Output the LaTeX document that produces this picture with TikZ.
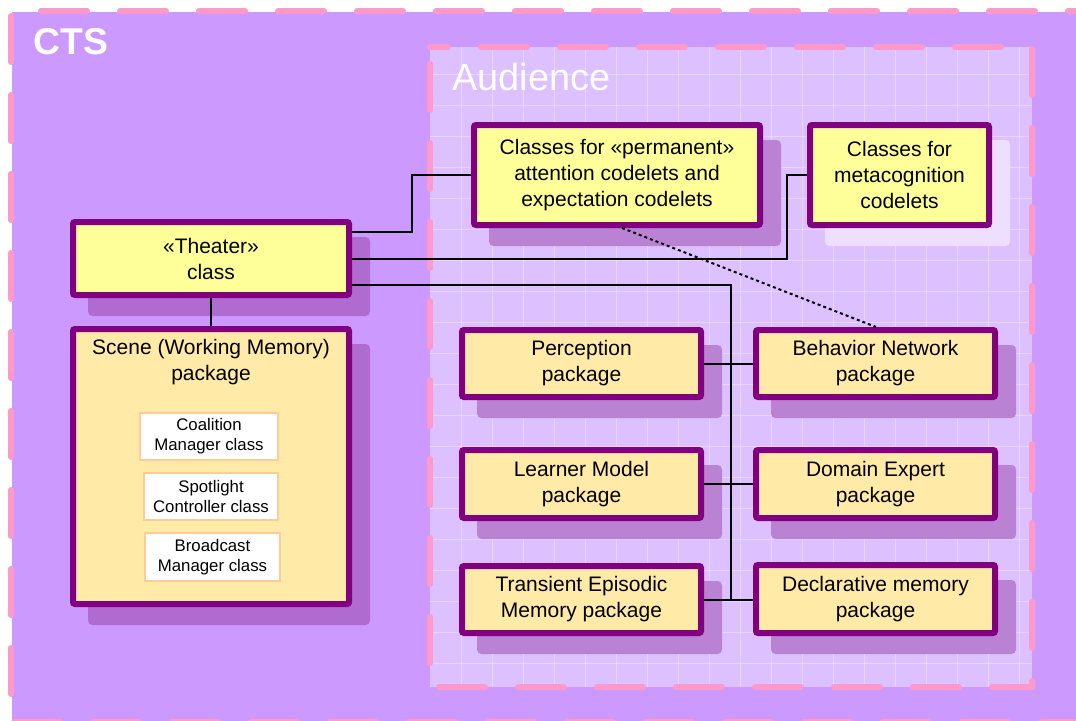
\documentclass[tikz,border=0pt]{standalone}
\usepackage{fontspec}
\setmainfont{Liberation Sans}
\usetikzlibrary{calc,shadows}

\definecolor{ctsbg}{HTML}{CC99FF}
\definecolor{audbg}{HTML}{DCC0FF}
\definecolor{dashpink}{HTML}{FF99CC}
\definecolor{boxline}{HTML}{800080}
\definecolor{classfill}{HTML}{FFFF99}
\definecolor{pkgfill}{HTML}{FFEAA8}
\definecolor{shadowcts}{HTML}{B06BD1}
\definecolor{shadowaud}{HTML}{BA82D3}
\definecolor{shadowpale}{HTML}{EEDFFF}
\definecolor{subline}{HTML}{FFCC99}

\tikzset{
  boxfont/.style={font=\fontsize{15.75}{19.5}\selectfont},
  umlbox/.style={draw=boxline, line width=4.5pt, rounded corners=1.5pt,
    inner sep=0pt, align=center, boxfont},
  shadowon/.style={general shadow={shadow xshift=13.5pt, shadow yshift=-13.5pt,
    fill=#1, draw=#1, line width=4.5pt, opacity=1}},
  classbox/.style={umlbox, fill=classfill},
  pkgbox/.style={umlbox, fill=pkgfill},
  subbox/.style={draw=subline, fill=white, line width=1.5pt, inner sep=0pt,
    align=center, font=\fontsize{12.6}{15}\selectfont},
  pinkdash/.style={draw=dashpink, line width=4.5pt, line cap=round,
    dash pattern=on 34.5pt off 24.75pt},
  gridline/.style={draw=white, line width=0.6pt, opacity=.35},
  conn/.style={draw=black, line width=1.5pt},
  depconn/.style={draw=black, line width=1.5pt, dash pattern=on 2.25pt off 2.25pt},
}

\begin{document}
\begin{tikzpicture}[x=0.75pt, y=-0.75pt]
  \useasboundingbox (0,0) rectangle (1076,721);
  \clip (0,0) rectangle (1076,721);
  \fill[white] (0,0) rectangle (1076,721);

  % CTS frame
  \fill[ctsbg] (12,12) rectangle (1090,730);
  \draw[pinkdash] (41,11) -- (1076,11);
  \draw[pinkdash] (11,16) -- (11,721);
  \draw[pinkdash] (14,722) -- (1076,722);
  \node[anchor=base west, inner sep=0pt, text=white,
        font=\fontsize{28}{30}\selectfont\bfseries] (ctslabel) at (33,54) {CTS};

  % Audience frame with its grid
  \fill[audbg] (430,47) rectangle (1032,687);
  \foreach \gx in {461,492,...,1030} \draw[gridline] (\gx,47) -- (\gx,687);
  \foreach \gy in {74,105,...,686} \draw[gridline] (430,\gy) -- (1032,\gy);
  \draw[pinkdash, dash phase=21pt] (430,47) -- (1032,47) -- (1032,687) -- (430,687) -- cycle;
  \node[anchor=base west, inner sep=0pt, text=white,
        font=\fontsize{28.4}{30}\selectfont] (audlabel) at (452,90) {Audience};

  % Theater and the scene
  \node[classbox, shadowon=shadowcts, minimum width=207pt, minimum height=54.75pt]
    (theater) at (211,258.5) {«Theater»\\class};
  \node[pkgbox, shadowon=shadowcts, minimum width=207pt, minimum height=206.25pt]
    (scene) at (211,466.5) {};
  \node[boxfont, align=center, inner sep=0pt] (scenetitle) at (211,362)
    {Scene (Working Memory)\\package};
  \node[subbox, minimum width=103.5pt, minimum height=35.25pt]
    (coalition) at (209,436.5) {Coalition\\Manager class};
  \node[subbox, minimum width=100.5pt, minimum height=35.25pt]
    (spotlight) at (211,496.5) {Spotlight\\Controller class};
  \node[subbox, minimum width=101.25pt, minimum height=36pt]
    (broadcast) at (212.5,557) {Broadcast\\Manager class};

  % Audience classes
  \node[classbox, shadowon=shadowaud, minimum width=214.5pt, minimum height=75pt]
    (perm) at (617,175) {Classes for «permanent»\\attention codelets and\\expectation codelets};
  \node[classbox, shadowon=shadowpale, minimum width=134.25pt, minimum height=75pt]
    (meta) at (899.5,175) {Classes for\\metacognition\\codelets};

  % Audience packages
  \node[pkgbox, shadowon=shadowaud, minimum width=179.25pt, minimum height=50.25pt]
    (perception) at (581.5,363.5) {Perception\\package};
  \node[pkgbox, shadowon=shadowaud, minimum width=179.25pt, minimum height=50.25pt]
    (behavior) at (875.5,363.5) {Behavior Network\\package};
  \node[pkgbox, shadowon=shadowaud, minimum width=179.25pt, minimum height=51pt]
    (learner) at (581.5,484) {Learner Model\\package};
  \node[pkgbox, shadowon=shadowaud, minimum width=179.25pt, minimum height=51pt]
    (domain) at (875.5,484) {Domain Expert\\package};
  \node[pkgbox, shadowon=shadowaud, minimum width=179.25pt, minimum height=50.25pt]
    (transient) at (581.5,599.5) {Transient Episodic\\Memory package};
  \node[pkgbox, shadowon=shadowaud, minimum width=179.25pt, minimum height=51pt]
    (declarative) at (875.5,599) {Declarative memory\\package};

  % Connectors
  \draw[conn] (theater.south) -- (scene.north);
  \draw[conn] ($(theater.east)+(0,-26.5)$) -| ($(perm.west)+(-59,0)$) -- (perm.west);
  \draw[conn] (theater.east) -| ($(meta.west)+(-20,0)$) -- (meta.west);
  \draw[conn] ($(theater.east)+(0,26.5)$) -| ($(transient.east)+(27,0)$);
  \draw[conn] (perception.east) -- (behavior.west);
  \draw[conn] (learner.east) -- (domain.west);
  \draw[conn] (transient.east) -- (declarative.west |- transient.east);
  \draw[depconn] ($(perm.south)+(5,0)$) -- ($(behavior.north)+(0.5,0)$);
\end{tikzpicture}
\end{document}
